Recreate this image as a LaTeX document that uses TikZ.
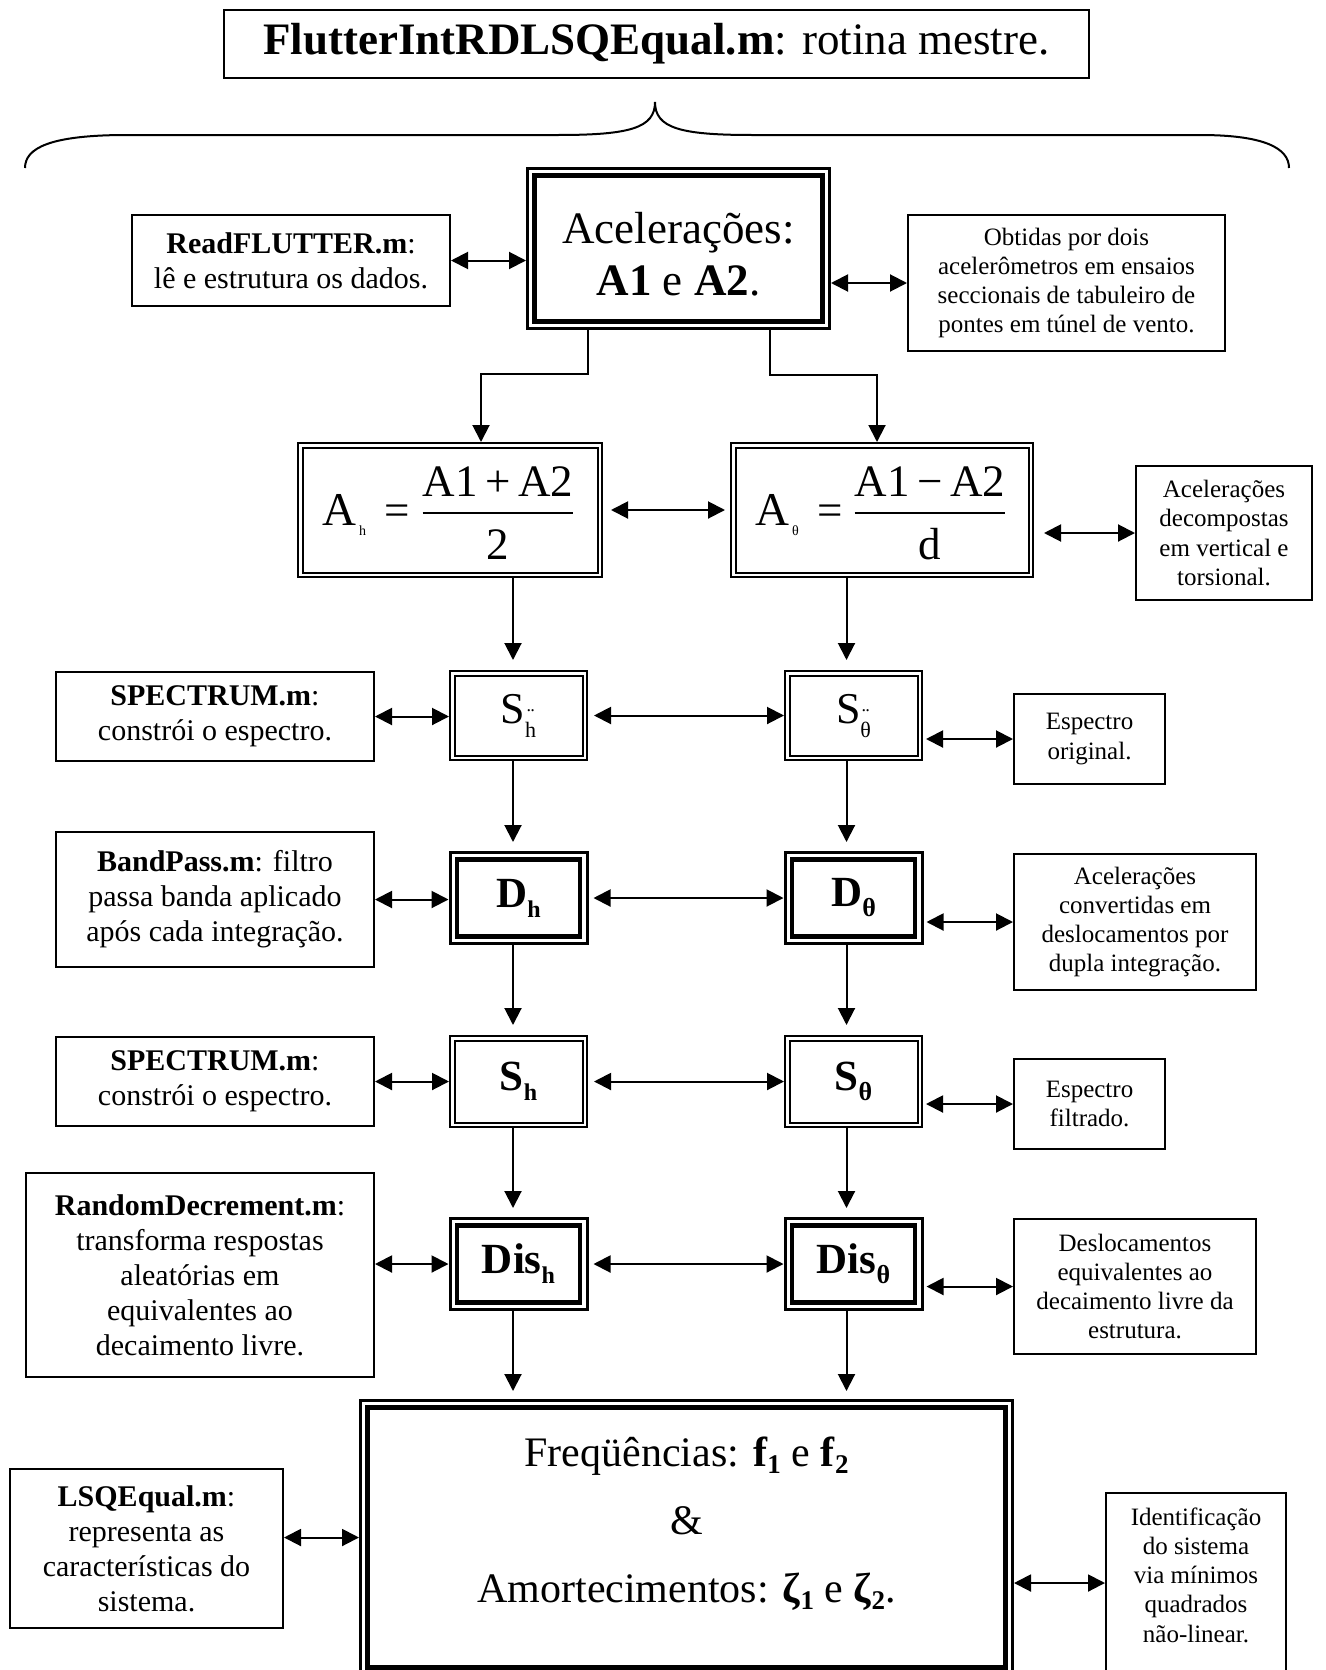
\documentclass[tikz,border=0pt]{standalone}
\usepackage{fontspec}
\setmainfont{Liberation Serif}
\usetikzlibrary{arrows.meta,calc}
\newcommand{\fsz}[2]{\fontsize{#1}{#2}\selectfont}
\newcommand{\dd}[1]{\ooalign{#1\cr\hidewidth\raisebox{0.62em}{¨}\hidewidth\cr}}
\newcommand{\lowsub}[3]{\raisebox{-#1pt}{\fsz{#2}{#2}#3}}
\begin{document}
\begin{tikzpicture}[x=1pt,y=-1pt,
 thinbox/.style={draw, line width=2pt, inner sep=0pt, align=center},
 dblbox/.style={draw, line width=2pt, double, double distance=2.5pt, inner sep=0pt, outer sep=3.25pt, align=center},
 ttbox/.style={draw, line width=3pt, inner sep=0pt, align=center},
 lefttxt/.style={font=\fsz{30}{35}},
 righttxt/.style={font=\fsz{25}{29.3}},
 bigtxt/.style={font=\fsz{45}{52}},
 frm/.style={inner sep=0pt},
 conn/.style={line width=2pt, -{Triangle[length=17pt,width=17pt]}},
 dconn/.style={line width=2pt, {Triangle[length=17pt,width=17pt]}-{Triangle[length=17pt,width=17pt]}}
]
\useasboundingbox (0,0) rectangle (1325,1670);
\fill[white] (0,0) rectangle (1325,1670);
\clip (0,0) rectangle (1325,1670);

% title and brace
\node[thinbox, bigtxt, minimum width=865pt, minimum height=68pt] (title) at (656.5,44)
  {\textbf{FlutterIntRDLSQEqual.m}: rotina mestre.};
\draw[line width=2pt] (25,168) .. controls (25,148) and (50,135) .. (127,135) -- (558,135)
  .. controls (630,135) and (655,128) .. (655,102)
  .. controls (655,128) and (680,135) .. (752,135) -- (1200,135)
  .. controls (1264,135) and (1289,148) .. (1289,168);

% first row
\node[ttbox, minimum width=302pt, minimum height=160pt] (acel) at (678.5,248.5) {};
\node[frm, bigtxt, align=center] (aceltxt) at (678.5,254)
  {Acelerações:\\\textbf{A1} e \textbf{A2}.};
\node[thinbox, lefttxt, minimum width=318pt, minimum height=91pt] (read) at (291,260.5)
  {\textbf{ReadFLUTTER.m}:\\lê e estrutura os dados.};
\node[thinbox, righttxt, minimum width=317pt, minimum height=136pt] (obt) at (1066.5,283)
  {Obtidas por dois\\acelerômetros em ensaios\\seccionais de tabuleiro de\\pontes em túnel de vento.};

% formulas
\node[dblbox, minimum width=299.5pt, minimum height=129.5pt] (ah) at (450,510) {};
\node[dblbox, minimum width=297.5pt, minimum height=129.5pt] (at) at (882,510) {};
\node[thinbox, righttxt, minimum width=176pt, minimum height=134pt] (dec) at (1224,533)
  {Acelerações\\decompostas\\em vertical e\\torsional.};

\node[frm, font=\fsz{47}{47}, anchor=base west] (ahA) at (322,525) {A};
\node[frm, font=\fsz{14}{14}, anchor=base west] (ahs) at (359,535) {h};
\node[frm, font=\fsz{45}{45}, anchor=base] (ahq) at (397,525) {=};
\node[frm, font=\fsz{45}{45}, anchor=base] (ahn) at (498,496) {A1\,+\,A2};
\node[frm, font=\fsz{45}{45}, anchor=base] (ahd) at (497.5,559) {2};
\draw[line width=2pt] (ahn.south west |- 0,513) -- (ahn.south east |- 0,513);

\node[frm, font=\fsz{47}{47}, anchor=base west] (atA) at (755,525) {A};
\node[frm, font=\fsz{14}{14}, anchor=base west] (ats) at (792,535) {θ};
\node[frm, font=\fsz{45}{45}, anchor=base] (atq) at (830,525) {=};
\node[frm, font=\fsz{45}{45}, anchor=base] (atn) at (930,496) {A1\,−\,A2};
\node[frm, font=\fsz{45}{45}, anchor=base] (atd) at (930,559) {d};
\draw[line width=2pt] (atn.south west |- 0,513) -- (atn.south east |- 0,513);

% spectra of accelerations
\node[dblbox, font=\fsz{44}{44}, minimum width=132.5pt, minimum height=84.5pt] (sdh) at (518.5,715.5)
  {S\lowsub{14}{22}{\dd{h}}};
\node[dblbox, font=\fsz{44}{44}, minimum width=132.5pt, minimum height=84.5pt] (sdt) at (853.5,715.5)
  {S\lowsub{14}{22}{\dd{θ}}};
\node[thinbox, lefttxt, minimum width=318pt, minimum height=89pt] (spec1) at (215,716.5)
  {\textbf{SPECTRUM.m}:\\constrói o espectro.};
\node[thinbox, righttxt, minimum width=151pt, minimum height=90pt] (espo) at (1089.5,739)
  {Espectro\\original.};

% displacements
\node[ttbox, font=\fsz{43}{43}, minimum width=137pt, minimum height=91pt] (dh) at (518.5,898)
  {\textbf{D}\lowsub{10}{24}{\textbf{h}}};
\node[ttbox, font=\fsz{43}{43}, minimum width=137pt, minimum height=91pt] (dt) at (853.5,898)
  {\textbf{D}\lowsub{10}{26}{\textbf{θ}}};
\node[thinbox, lefttxt, minimum width=318pt, minimum height=135pt] (band) at (215,899.5)
  {\textbf{BandPass.m}: filtro\\passa banda aplicado\\após cada integração.};
\node[thinbox, righttxt, minimum width=242pt, minimum height=136pt] (conv) at (1135,922)
  {Acelerações\\convertidas em\\deslocamentos por\\dupla integração.};

% spectra of displacements
\node[dblbox, font=\fsz{43}{43}, minimum width=132.5pt, minimum height=86.5pt] (sh) at (518.5,1081.5)
  {\textbf{S}\lowsub{10}{24}{\textbf{h}}};
\node[dblbox, font=\fsz{43}{43}, minimum width=132.5pt, minimum height=86.5pt] (st) at (853.5,1081.5)
  {\textbf{S}\lowsub{10}{26}{\textbf{θ}}};
\node[thinbox, lefttxt, minimum width=318pt, minimum height=89pt] (spec2) at (215,1081.5)
  {\textbf{SPECTRUM.m}:\\constrói o espectro.};
\node[thinbox, righttxt, minimum width=151pt, minimum height=90pt] (espf) at (1089.5,1104)
  {Espectro\\filtrado.};

% random decrement
\node[ttbox, font=\fsz{43}{43}, minimum width=137pt, minimum height=91pt] (dish) at (518.5,1264)
  {\textbf{Dis}\lowsub{10}{24}{\textbf{h}}};
\node[ttbox, font=\fsz{43}{43}, minimum width=137pt, minimum height=91pt] (dist) at (853.5,1264)
  {\textbf{Dis}\lowsub{10}{26}{\textbf{θ}}};
\node[thinbox, lefttxt, minimum width=348pt, minimum height=204pt] (rand) at (200,1275)
  {\textbf{RandomDecrement.m}:\\transforma respostas\\aleatórias em\\equivalentes ao\\decaimento livre.};
\node[thinbox, righttxt, minimum width=242pt, minimum height=135pt] (desl) at (1135,1286.5)
  {Deslocamentos\\equivalentes ao\\decaimento livre da\\estrutura.};

% final
\node[ttbox, minimum width=652pt, minimum height=274pt] (fin) at (686.5,1537.5) {};
\node[frm, font=\fsz{42}{68}, align=center] (fintxt) at (686.5,1524)
  {Freqüências: \textbf{f}\lowsub{7}{27}{\textbf{1}} e \textbf{f}\lowsub{7}{27}{\textbf{2}}\\\&\\Amortecimentos: \textbf{ζ}\lowsub{7}{27}{\textbf{1}} e \textbf{ζ}\lowsub{7}{27}{\textbf{2}}.};
\node[thinbox, lefttxt, minimum width=273pt, minimum height=159pt] (lsq) at (146.5,1548.5)
  {\textbf{LSQEqual.m}:\\representa as\\características do\\sistema.};
\node[thinbox, minimum width=180pt, minimum height=180pt] (ident) at (1196,1583) {};
\node[frm, righttxt, align=center] (identtxt) at (1196,1575)
  {Identificação\\do sistema\\via mínimos\\quadrados\\não-linear.};

% inner lines of thick-thin boxes
\foreach \n in {acel,dh,dt,dish,dist,fin}
  \draw[line width=4.5pt] ($(\n.north west)+(8.5,8.5)$) rectangle ($(\n.south east)+(-8.5,-8.5)$);

% column coordinates
\coordinate (colL) at (513,0);
\coordinate (colR) at (846.5,0);

% connectors from accelerations
\draw[conn] ([xshift=-90.5pt]acel.south) -- ++(0,44) -| ([xshift=31pt]ah.north);
\draw[conn] ([xshift=91.5pt]acel.south) -- ++(0,45) -| ([xshift=-5pt]at.north);

% vertical arrows
\draw[conn] (ah.south -| colL) -- ([yshift=10pt]sdh.north -| colL);
\draw[conn] (at.south -| colR) -- ([yshift=10pt]sdt.north -| colR);
\draw[conn] (sdh.south -| colL) -- ([yshift=9pt]dh.north -| colL);
\draw[conn] (sdt.south -| colR) -- ([yshift=9pt]dt.north -| colR);
\draw[conn] (dh.south -| colL) -- ([yshift=10pt]sh.north -| colL);
\draw[conn] (dt.south -| colR) -- ([yshift=10pt]st.north -| colR);
\draw[conn] (sh.south -| colL) -- ([yshift=9pt]dish.north -| colL);
\draw[conn] (st.south -| colR) -- ([yshift=9pt]dist.north -| colR);
\draw[conn] (dish.south -| colL) -- ([yshift=8pt]fin.north -| colL);
\draw[conn] (dist.south -| colR) -- ([yshift=8pt]fin.north -| colR);

% horizontal double arrows
\draw[dconn] (read.east) -- (read.east -| acel.west);
\draw[dconn] (obt.west -| acel.east) -- (obt.west);
\draw[dconn, shorten <=8pt, shorten >=5pt] (ah.east) -- (at.west);
\draw[dconn, shorten <=10pt] (dec.west -| at.east) -- (dec.west);
\draw[dconn] (spec1.east) -- (spec1.east -| sdh.west);
\draw[dconn, shorten <=6pt] (sdh.east) -- (sdt.west);
\draw[dconn, shorten <=3pt] (espo.west -| sdt.east) -- (espo.west);
\draw[dconn] (band.east) -- (band.east -| dh.west);
\draw[dconn, shorten <=5pt] (dh.east) -- (dt.west);
\draw[dconn, shorten <=3pt] (conv.west -| dt.east) -- (conv.west);
\draw[dconn] (spec2.east) -- (spec2.east -| sh.west);
\draw[dconn, shorten <=6pt] (sh.east) -- (st.west);
\draw[dconn, shorten <=3pt] (espf.west -| st.east) -- (espf.west);
\draw[dconn] (dish.west -| rand.east) -- (dish.west);
\draw[dconn, shorten <=5pt] (dish.east) -- (dist.west);
\draw[dconn, shorten <=3pt] (desl.west -| dist.east) -- (desl.west);
\draw[dconn] (fin.west -| lsq.east) -- (fin.west);
\draw[dconn] (ident.west -| fin.east) -- (ident.west);
\end{tikzpicture}
\end{document}
